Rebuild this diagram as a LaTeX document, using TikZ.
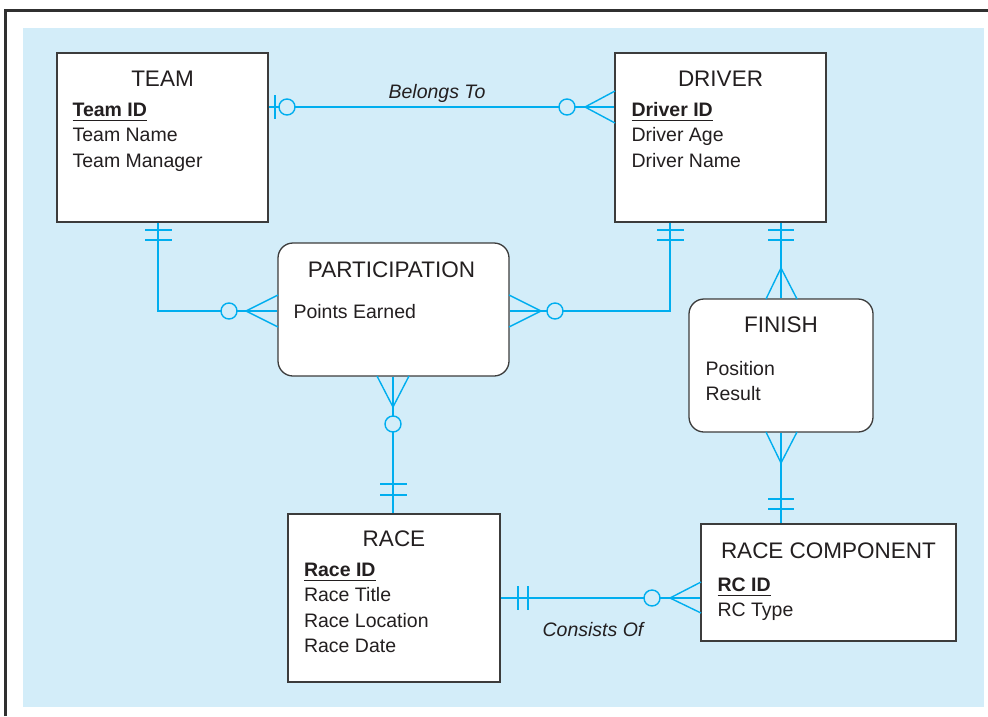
\documentclass[tikz,border=0pt]{standalone}
\usepackage{fontspec}
\setmainfont{Liberation Sans}
\usepackage{xcolor}
\usepackage{tikz}
\usetikzlibrary{calc}

\definecolor{bgblue}{RGB}{211,237,249}
\definecolor{erblue}{RGB}{0,174,239}
\definecolor{ink}{RGB}{35,31,32}
\definecolor{boxline}{RGB}{60,60,60}

\newsavebox{\pkbox}
\newcommand{\pkey}[1]{\sbox\pkbox{\bfseries #1}\rlap{\rule[-5pt]{\wd\pkbox}{1pt}}\usebox\pkbox}

\begin{document}
\begin{tikzpicture}[
  x=1pt, y=-1pt,
  entity/.style={draw=boxline, fill=white, line width=1.3pt, inner sep=0pt},
  assoc/.style={entity, rounded corners=15pt},
  ttl/.style={font=\fontsize{22.5}{27}\selectfont, text=ink, inner sep=0pt, anchor=base},
  attr/.style={font=\fontsize{19.5}{25.5}\selectfont, text=ink, align=left, inner sep=0pt, anchor=base west},
  rlabel/.style={font=\fontsize{19.5}{25.5}\selectfont\itshape, text=ink, inner sep=0pt, anchor=base},
  rel/.style={draw=erblue, line width=1.4pt},
  opt/.style={rel, fill=bgblue}
]
  \useasboundingbox (0,0) rectangle (988,716);
  \fill[bgblue] (23,28) rectangle (984,707);
  \draw[boxline!80!black, line width=3pt] (5.5,716) -- (5.5,10.5) -- (988,10.5);

  % entities
  \node[entity, minimum width=211pt, minimum height=169pt] (team) at (162.5,137.5) {};
  \node[entity, minimum width=211pt, minimum height=169pt] (driver) at (720.5,137.5) {};
  \node[assoc, minimum width=231pt, minimum height=133pt] (part) at (393.5,309.5) {};
  \node[assoc, minimum width=184pt, minimum height=133pt] (finish) at (781,365.5) {};
  \node[entity, minimum width=212pt, minimum height=168pt] (race) at (394,598) {};
  \node[entity, minimum width=255pt, minimum height=117pt] (rc) at (828.5,582.5) {};

  % relationships
  \draw[rel] (team.east |- 0,107) -- (driver.west |- 0,107);
  \draw[rel] ([xshift=-4.5pt]team.south) |- ([yshift=-1.5pt]part.west);
  \draw[rel] ([xshift=-50.5pt]driver.south) |- ([yshift=-1.5pt]part.east);
  \draw[rel] ([xshift=60.5pt]driver.south) -- (finish.north);
  \draw[rel] (finish.south) -- (finish.south |- rc.north);
  \draw[rel] ([xshift=-0.5pt]part.south) -- ([xshift=-0.5pt]part.south |- race.north);
  \draw[rel] (race.east) -- (race.east -| rc.west);

  % cardinality marks
  % team -- driver
  \draw[rel] (275,95) -- (275,119);
  \draw[opt] (287,107) circle[radius=8pt];
  \draw[opt] (567,107) circle[radius=8pt];
  \draw[rel] (615,91) -- (585,107) -- (615,123);
  % team -- participation
  \draw[rel] (145,230) -- (172,230) (145,240) -- (172,240);
  \draw[opt] (229,311) circle[radius=8pt];
  \draw[rel] (278,295) -- (246,311) -- (278,327);
  % driver -- participation
  \draw[rel] (657,230) -- (684,230) (657,240) -- (684,240);
  \draw[opt] (555,311) circle[radius=8pt];
  \draw[rel] (509,295) -- (541,311) -- (509,327);
  % driver -- finish
  \draw[rel] (768,230) -- (794,230) (768,240) -- (794,240);
  \draw[rel] (766,299) -- (781,268) -- (797,299);
  % finish -- race component
  \draw[rel] (766,432) -- (781,463) -- (797,432);
  \draw[rel] (768,499) -- (794,499) (768,509) -- (794,509);
  % participation -- race
  \draw[rel] (377,376) -- (393,407) -- (409,376);
  \draw[opt] (393,424) circle[radius=8pt];
  \draw[rel] (380,484) -- (407,484) (380,495) -- (407,495);
  % race -- race component
  \draw[rel] (518,586) -- (518,610) (528,586) -- (528,610);
  \draw[opt] (652,598) circle[radius=8pt];
  \draw[rel] (701,582) -- (670,598) -- (701,613);

  % texts (attr nodes sit on the baseline of their last line)
  \node[ttl] (teamT) at ([yshift=-34pt]team.north) {TEAM};
  \node[attr] (teamA) at ([xshift=16pt,yshift=-115pt]team.north west) {\pkey{Team ID}\\Team Name\\Team Manager};
  \node[ttl] (driverT) at ([yshift=-34pt]driver.north) {DRIVER};
  \node[attr] (driverA) at ([xshift=17pt,yshift=-115pt]driver.north west) {\pkey{Driver ID}\\Driver Age\\Driver Name};
  \node[ttl] (partT) at ([xshift=-2pt,yshift=-35pt]part.north) {PARTICIPATION};
  \node[attr] (partA) at ([xshift=16pt,yshift=-76pt]part.north west) {Points Earned};
  \node[ttl] (finishT) at ([yshift=-34pt]finish.north) {FINISH};
  \node[attr] (finishA) at ([xshift=17pt,yshift=-102.5pt]finish.north west) {Position\\Result};
  \node[ttl] (raceT) at ([yshift=-33pt]race.north) {RACE};
  \node[attr] (raceA) at ([xshift=16.5pt,yshift=-139.5pt]race.north west) {\pkey{Race ID}\\Race Title\\Race Location\\Race Date};
  \node[ttl] (rcT) at ([yshift=-35pt]rc.north) {RACE COMPONENT};
  \node[attr] (rcA) at ([xshift=17pt,yshift=-93.5pt]rc.north west) {\pkey{RC ID}\\RC Type};

  \node[rlabel] (belongs) at (437,98) {Belongs To};
  \node[rlabel] (consists) at (593,636) {Consists Of};
\end{tikzpicture}
\end{document}
